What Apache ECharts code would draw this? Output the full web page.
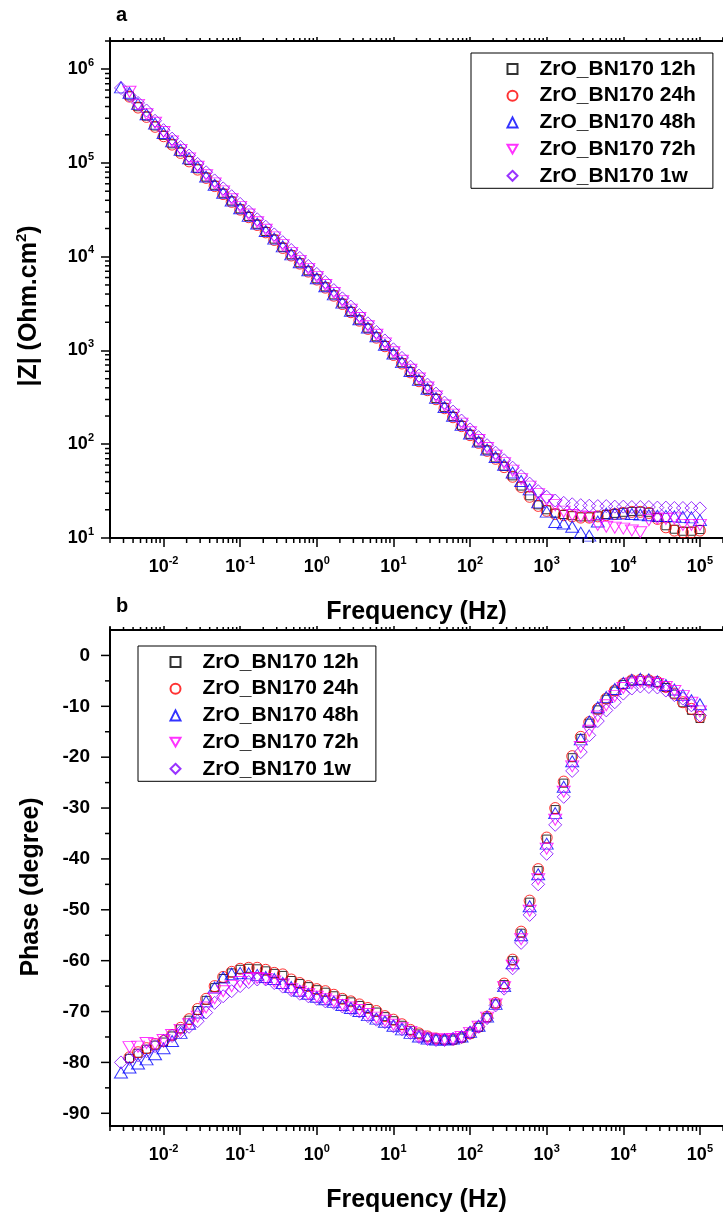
<!DOCTYPE html>
<html><head><meta charset="utf-8">
<script src="https://cdn.jsdelivr.net/npm/echarts@6/dist/echarts.min.js"></script>
<style>html,body{margin:0;padding:0;background:#fff}#c{width:723px;height:1216px}</style>
</head><body><div id="c"></div>
<script>
// ---------- data ----------
const FREQ_HZ = [100000,77430,59950,46420,35940,27830,21540,16680,12920,10000,
 7743,5995,4642,3594,2783,2154,1668,1292,1000,774.3,
 599.5,464.2,359.4,278.3,215.4,166.8,129.2,100,77.43,59.95,
 46.42,35.94,27.83,21.54,16.68,12.92,10,7.743,5.995,4.642,
 3.594,2.783,2.154,1.668,1.292,1,0.7743,0.5995,0.4642,0.3594,
 0.2783,0.2154,0.1668,0.1292,0.1,0.07743,0.05995,0.04642,0.03594,0.02783,
 0.02154,0.01668,0.01292,0.01,0.007743,0.005995,0.004642,0.003594,0.002783];

const SERIES_NAMES = ['ZrO_BN170 12h','ZrO_BN170 24h','ZrO_BN170 48h','ZrO_BN170 72h','ZrO_BN170 1w'];

// |Z| (Ohm.cm2)
const Z_12h = [12.3,11.8,11.8,12.4,13.5,16.5,18.8,19.3,19.2,18.8,
 18.3,17.8,17.2,16.8,16.8,17.3,17.8,18.4,20.0,22.6,
 28.2,35.8,46,58.2,71.5,86.8,105.5,127.5,159,198,
 247,308,385,480,596,741,914,1130,1400,1730,
 2120,2610,3190,3920,4770,5820,7080,8620,10500,12600,
 15400,18600,22200,26900,32400,39300,47500,57800,70700,86700,
 106000,131000,160000,197000,248000,316000,398000,520000,null];
const Z_24h = [12.0,11.5,11.5,12.0,13.0,16.0,18.5,19.0,19.0,18.5,
 18.0,17.5,17.0,16.5,16.5,17.0,17.5,18.0,19.5,22.0,
 27.5,35,45,57,70,85,103.5,125,156,194,
 242,302,377,470,584,726,896,1110,1370,1700,
 2080,2560,3130,3840,4680,5710,6940,8450,10300,12400,
 15100,18200,21800,26400,31800,38500,46600,56700,69300,85000,
 104000,128000,157000,193000,243000,310000,390000,510000,null];
const Z_48h = [15.5,16.6,16.8,17.0,17.2,17.3,17.5,17.8,18.0,18.2,
 18.2,18.2,15.0,10.6,11.4,13.2,14.3,14.8,19.1,24.0,
 33.0,40.5,50.0,60.5,73.0,88,107,130,161,201,
 250,312,390,486,604,751,927,1150,1420,1760,
 2150,2650,3240,3970,4840,5900,7180,8740,10600,12900,
 15600,18800,22600,27300,32900,39800,48200,58700,71600,91200,
 112000,138000,170000,209000,263000,331000,427000,560000,640000];
const Z_72h = [13.8,13.8,13.8,16.2,16.0,16.2,15.5,11.5,12.0,12.6,
 12.9,13.2,13.8,16.8,17.0,17.6,19.1,22.4,25.5,29.4,
 35.3,42.5,52.3,62.9,75.6,91,111,134,166,207,
 259,323,403,502,624,776,958,1190,1470,1810,
 2220,2730,3350,4100,5000,6100,7420,9030,11000,13300,
 16100,19400,23300,28200,34000,41100,49800,60600,74000,91200,
 112000,138000,170000,214000,269000,331000,417000,575000,null];
const Z_1w = [20.7,20.9,20.9,20.9,21.1,21.1,21.4,21.4,21.4,21.6,
 21.6,21.9,21.9,22.1,22.4,22.9,23.7,25.1,27.5,31.6,
 38.0,45.7,56.2,67.6,81.3,97.7,119,144,179,223,
 278,347,433,540,671,834,1030,1280,1580,1950,
 2390,2940,3600,4410,5380,6560,7980,9710,11800,14300,
 17300,20900,25100,30300,36600,44200,53600,65200,79600,97700,
 120000,148000,182000,224000,282000,363000,437000,525000,631000];

// Phase (degree)
const PH_12h = [-12.4,-10.8,-9.3,-7.6,-6.3,-5.3,-5.0,-4.9,-5.0,-5.7,
 -7.0,-8.6,-10.7,-13.3,-16.3,-20.1,-25.1,-30.3,-36.1,-42.3,
 -48.5,-54.6,-60.0,-64.7,-68.5,-71.2,-73.1,-74.4,-75.2,-75.6,
 -75.6,-75.4,-75.0,-74.4,-73.7,-72.7,-71.8,-71.0,-70.1,-69.4,
 -68.8,-68.1,-67.6,-66.9,-66.2,-65.7,-65.1,-64.5,-63.9,-62.9,
 -62.5,-62.0,-61.6,-61.5,-61.7,-62.4,-63.5,-65.3,-67.8,-69.8,
 -71.7,-73.4,-74.8,-76.0,-76.6,-77.4,-78.2,-79.2,null];
const PH_24h = [-12.1,-10.5,-9.2,-7.5,-6.2,-5.2,-4.9,-4.8,-4.9,-5.6,
 -6.9,-8.5,-10.5,-13.1,-16.0,-19.8,-24.8,-30.0,-35.8,-42.0,
 -48.2,-54.3,-59.8,-64.5,-68.3,-71.0,-73.0,-74.3,-75.1,-75.5,
 -75.5,-75.3,-74.9,-74.3,-73.6,-72.5,-71.6,-70.9,-69.9,-69.3,
 -68.6,-68.0,-67.5,-66.7,-66.0,-65.6,-65.0,-64.4,-63.7,-62.7,
 -62.4,-61.8,-61.4,-61.4,-61.6,-62.2,-63.2,-65.0,-67.5,-69.5,
 -71.5,-73.2,-74.6,-75.8,-76.4,-77.2,-78.0,-79.0,null];
const PH_48h = [-9.6,-8.8,-7.8,-6.7,-5.8,-5.1,-4.7,-4.6,-4.8,-5.4,
 -6.6,-8.2,-10.2,-13.0,-16.5,-20.8,-25.8,-31.0,-37.0,-43.0,
 -49.3,-55.0,-60.5,-65.0,-68.5,-71.0,-72.8,-74.0,-74.9,-75.3,
 -75.5,-75.5,-75.3,-74.9,-74.2,-73.5,-72.8,-72.0,-71.4,-70.7,
 -69.9,-69.3,-68.7,-68.1,-67.6,-67.1,-66.5,-65.9,-65.2,-64.4,
 -63.6,-63.2,-62.8,-62.5,-62.4,-62.6,-63.3,-65.3,-68.0,-70.2,
 -72.4,-74.2,-75.8,-77.2,-78.4,-79.4,-80.2,-81.0,-82.0];
const PH_72h = [-11.0,-9.3,-8.0,-7.0,-6.2,-5.6,-5.3,-5.2,-5.5,-6.4,
 -8.0,-9.8,-12.0,-14.8,-18.0,-21.8,-26.8,-32.3,-38.0,-44.0,
 -50.2,-55.8,-61.0,-65.2,-68.6,-71.2,-73.0,-74.2,-75.0,-75.4,
 -75.5,-75.5,-75.3,-74.9,-74.0,-73.3,-72.6,-71.8,-71.2,-70.5,
 -69.7,-69.2,-68.7,-68.0,-67.6,-67.1,-66.6,-66.1,-65.6,-64.7,
 -64.1,-63.6,-63.4,-63.6,-64.2,-65.0,-66.0,-67.4,-69.2,-71.0,
 -72.5,-73.6,-74.6,-75.6,-76.4,-76.2,-76.9,-77.0,null];
const PH_1w = [-11.8,-9.8,-8.5,-7.8,-6.9,-6.3,-6.2,-6.1,-6.5,-7.5,
 -9.2,-10.8,-12.9,-15.7,-19.0,-22.7,-27.8,-33.3,-39.0,-45.0,
 -51.0,-56.5,-61.5,-65.5,-68.8,-71.3,-73.0,-74.2,-75.0,-75.4,
 -75.6,-75.6,-75.4,-75.0,-74.2,-73.5,-72.9,-72.1,-71.6,-70.9,
 -70.0,-69.5,-69.0,-68.3,-68.0,-67.5,-67.0,-66.5,-65.8,-65.1,
 -64.4,-63.7,-63.7,-64.2,-65.0,-66.0,-67.0,-68.3,-70.2,-71.9,
 -73.0,-74.0,-74.8,-75.8,-76.8,-77.8,-78.6,-79.3,-80.0];

const PHASE_TICKS = [0,-10,-20,-30,-40,-50,-60,-70,-80,-90];
const PHASE_MINOR_TICKS = [-5,-15,-25,-35,-45,-55,-65,-75,-85];

// ---------- styling ----------
const FF = "'Liberation Sans', Arial, Helvetica, sans-serif";
const COLORS = ['#000000','#FF0000','#0000FF','#FF00FF','#8000FF'];
const SYMBOLS = ['rect','circle','triangle','path://M0,0L20,0L10,17.32Z','diamond'];
const SIZES = [[8,8],[11,11],[13,11],[13,11],[13,13]];
const X_MIN = 0.002, X_MAX = 200000, Z_MIN = 10, Z_MAX = 2000000, PH_MIN = -92.5, PH_MAX = 5;

const Z_DATA = [Z_12h, Z_24h, Z_48h, Z_72h, Z_1w];
const PH_DATA = [PH_12h, PH_24h, PH_48h, PH_72h, PH_1w];
const pairs = arr => FREQ_HZ.map((f, i) => arr[i] == null ? null : [f, arr[i]]).filter(Boolean);

const powRich = {
  b: {fontSize: 18, fontWeight: 'bold', fontFamily: FF, color: '#000', lineHeight: 24},
  s: {fontSize: 11, fontWeight: 'bold', fontFamily: FF, color: '#000', lineHeight: 12, verticalAlign: 'top'}
};
function powLabel(v) {
  const e = Math.log10(v), r = Math.round(e);
  if (Math.abs(e - r) > 1e-6) return '';
  return '{b|10}{s|' + r + '}';
}
const titleStyle = {fontSize: 25, fontWeight: 'bold', fontFamily: FF, color: '#000', lineHeight: 30};
const axisLine = {show: true, onZero: false, lineStyle: {color: '#000', width: 2}};

function logAxis(grid, pos, withLabels, name) {
  const a = {
    type: 'log', gridIndex: grid, position: pos, min: X_MIN, max: X_MAX, logBase: 10,
    axisLine: axisLine, splitLine: {show: false},
    axisTick: {show: true, inside: false, length: pos === 'top' ? 4 : 9, lineStyle: {color: '#000', width: 1.5}},
    axisLabel: {show: withLabels, formatter: powLabel, rich: powRich, margin: 17, showMinLabel: false, showMaxLabel: false}
  };
  if (name) {
    a.name = name; a.nameLocation = 'middle'; a.nameGap = 59; a.nameTextStyle = titleStyle;
  }
  return a;
}

// minor tick positions (axis decoration)
const logMinor = [];
for (let k = -3; k <= 6; k++) for (let m = 2; m <= 9; m++) logMinor.push(m * Math.pow(10, k));
const xMinor = logMinor.filter(v => v >= X_MIN * 0.9999 && v <= X_MAX * 1.0001);
const zMinor = logMinor.filter(v => v >= Z_MIN && v <= Z_MAX * 1.0001);

function tickSeries(xi, yi, items) {
  return {
    type: 'custom', xAxisIndex: xi, yAxisIndex: yi, silent: true, clip: false, z: 5,
    encode: {x: 0, y: 1}, data: items, animation: false,
    renderItem: (params, api) => {
      const p = api.coord([api.value(0), api.value(1)]);
      const len = api.value(2), dir = api.value(3);
      let x2 = p[0], y2 = p[1];
      if (dir === 0) y2 += len; else if (dir === 1) y2 -= len; else x2 -= len;
      return {type: 'line', shape: {x1: p[0], y1: p[1], x2: x2, y2: y2},
              style: {stroke: '#000', lineWidth: 1.5}};
    }
  };
}

const series = [];
SERIES_NAMES.forEach((n, k) => {
  const common = {
    type: 'scatter', name: n, symbol: SYMBOLS[k], symbolSize: SIZES[k], symbolKeepAspect: false,
    itemStyle: {color: 'none', borderColor: COLORS[k], borderWidth: 1},
    emphasis: {disabled: true}, animation: false
  };
  series.push(Object.assign({}, common, {xAxisIndex: 0, yAxisIndex: 0, data: pairs(Z_DATA[k])}));
  series.push(Object.assign({}, common, {xAxisIndex: 2, yAxisIndex: 1, data: pairs(PH_DATA[k])}));
});
series.push(tickSeries(0, 0, xMinor.map(v => [v, Z_MIN, 5, 0]).concat(xMinor.map(v => [v, Z_MAX, 3, 1]))));
series.push(tickSeries(0, 0, zMinor.map(v => [X_MIN, v, 5, 2])));
series.push(tickSeries(2, 1, xMinor.map(v => [v, PH_MIN, 5, 0]).concat(xMinor.map(v => [v, PH_MAX, 3, 1]))));
series.push(tickSeries(2, 1, PHASE_TICKS.map(v => [X_MIN, v, 9, 2]).concat(PHASE_MINOR_TICKS.map(v => [X_MIN, v, 5, 2]))));

const legendBase = {
  data: SERIES_NAMES, orient: 'vertical', itemWidth: 10, itemHeight: 10, itemGap: 5.7,
  borderColor: '#000', borderWidth: 1, selectedMode: false,
  textStyle: {fontSize: 21, fontWeight: 'bold', fontFamily: FF, color: '#000', lineHeight: 20, padding: [0, 0, 0, 17]}
};

const option = {
  animation: false,
  backgroundColor: '#fff',
  grid: [
    {left: 110, top: 41, right: -4, bottom: 678, containLabel: false},
    {left: 110, top: 630, right: -4, bottom: 88.5, containLabel: false}
  ],
  xAxis: [
    logAxis(0, 'bottom', true, 'Frequency (Hz)'),
    logAxis(0, 'top', false),
    logAxis(1, 'bottom', true, 'Frequency (Hz)'),
    logAxis(1, 'top', false)
  ],
  yAxis: [
    {
      type: 'log', gridIndex: 0, min: Z_MIN, max: Z_MAX, logBase: 10,
      axisLine: axisLine, splitLine: {show: false},
      axisTick: {show: true, inside: false, length: 9, lineStyle: {color: '#000', width: 1.5}},
      axisLabel: {formatter: powLabel, rich: powRich, margin: 16, showMaxLabel: false},
      name: '|Z| (Ohm.cm{sup|2})', nameLocation: 'middle', nameGap: 66,
      nameTextStyle: Object.assign({}, titleStyle, {padding: [0, 33, 0, 0],
        rich: {sup: {fontSize: 15, fontWeight: 'bold', fontFamily: FF, color: '#000', lineHeight: 16, verticalAlign: 'top'}}})
    },
    {
      type: 'value', gridIndex: 1, min: PH_MIN, max: PH_MAX, splitNumber: 10,
      axisLine: axisLine, splitLine: {show: false}, axisTick: {show: false},
      axisLabel: {formatter: v => PHASE_TICKS.indexOf(v) >= 0 ? String(v) : '', margin: 20,
        fontSize: 19, fontWeight: 'bold', fontFamily: FF, color: '#000', showMinLabel: false, showMaxLabel: false},
      name: 'Phase (degree)', nameLocation: 'middle', nameGap: 64,
      nameTextStyle: Object.assign({}, titleStyle, {padding: [0, 18, 0, 0]})
    }
  ],
  legend: [
    Object.assign({}, legendBase, {left: 471, top: 53, padding: [5.5, 17, 2, 34]}),
    Object.assign({}, legendBase, {left: 138, top: 646, padding: [5.5, 17, 2, 30]})
  ],
  graphic: [
    {type: 'text', x: 116, y: 15, style: {text: 'a', fontSize: 20, fontWeight: 'bold', fontFamily: FF, fill: '#000', verticalAlign: 'middle'}},
    {type: 'text', x: 116, y: 606, style: {text: 'b', fontSize: 20, fontWeight: 'bold', fontFamily: FF, fill: '#000', verticalAlign: 'middle'}}
  ],
  series: series
};

const chart = echarts.init(document.getElementById('c'), null, {renderer: 'canvas'});
chart.setOption(option);
</script>
</body></html>
